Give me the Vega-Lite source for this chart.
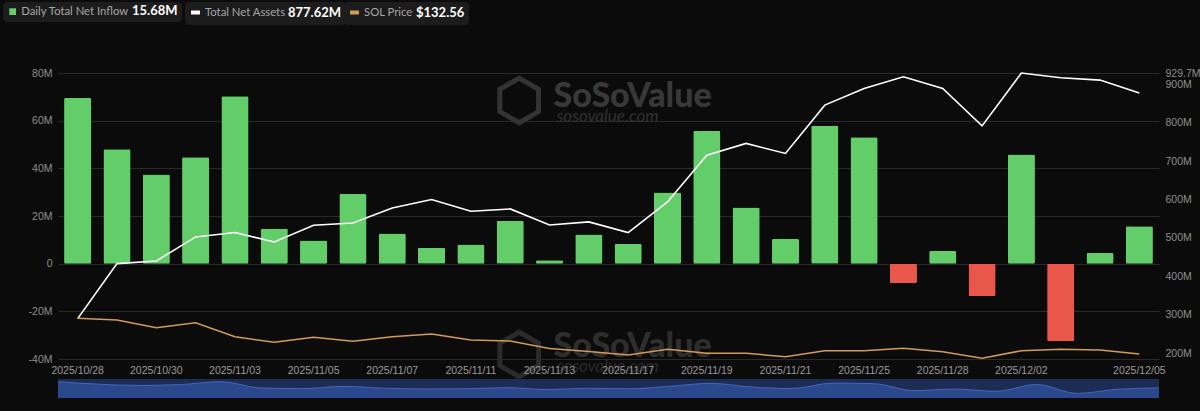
{
  "$schema": "https://vega.github.io/schema/vega-lite/v6.json",
  "width": 1101,
  "height": 286,
  "autosize": {"type": "none"},
  "padding": {"left": 58, "top": 73, "right": 41, "bottom": 52},
  "background": "#0b0b0b",
  "config": {
    "view": {"stroke": null},
    "font": "Lato",
    "axis": {"labelFont": "Liberation Sans", "labelFontSize": 10.5, "labelColor": "#8e8e8e", "domain": false, "ticks": false, "title": null}
  },
  "data": {
    "values": [
      {"date": "2025/10/28", "inflow": 69.5, "assets": 289.8, "price": 195.0},
      {"date": "2025/10/29", "inflow": 48.0, "assets": 433.2, "price": 192.0},
      {"date": "2025/10/30", "inflow": 37.4, "assets": 440.0, "price": 178.6},
      {"date": "2025/10/31", "inflow": 44.6, "assets": 502.6, "price": 187.3},
      {"date": "2025/11/03", "inflow": 70.2, "assets": 514.1, "price": 162.8},
      {"date": "2025/11/04", "inflow": 14.7, "assets": 489.6, "price": 153.0},
      {"date": "2025/11/05", "inflow": 9.7, "assets": 533.1, "price": 161.8},
      {"date": "2025/11/06", "inflow": 29.2, "assets": 539.1, "price": 154.8},
      {"date": "2025/11/07", "inflow": 12.7, "assets": 578.2, "price": 162.8},
      {"date": "2025/11/10", "inflow": 6.7, "assets": 600.1, "price": 167.5},
      {"date": "2025/11/11", "inflow": 8.0, "assets": 569.6, "price": 157.0},
      {"date": "2025/11/12", "inflow": 18.0, "assets": 575.6, "price": 155.3},
      {"date": "2025/11/13", "inflow": 1.4, "assets": 533.9, "price": 142.3},
      {"date": "2025/11/14", "inflow": 12.2, "assets": 541.7, "price": 136.9},
      {"date": "2025/11/17", "inflow": 8.2, "assets": 514.1, "price": 130.8},
      {"date": "2025/11/18", "inflow": 29.9, "assets": 593.9, "price": 140.8},
      {"date": "2025/11/19", "inflow": 55.7, "assets": 715.6, "price": 133.8},
      {"date": "2025/11/20", "inflow": 23.6, "assets": 746.2, "price": 133.8},
      {"date": "2025/11/21", "inflow": 10.3, "assets": 720.1, "price": 127.8},
      {"date": "2025/11/24", "inflow": 57.9, "assets": 846.0, "price": 138.3},
      {"date": "2025/11/25", "inflow": 53.0, "assets": 889.6, "price": 138.3},
      {"date": "2025/11/26", "inflow": -8.1, "assets": 919.8, "price": 142.5},
      {"date": "2025/11/28", "inflow": 5.3, "assets": 889.6, "price": 136.6},
      {"date": "2025/12/01", "inflow": -13.6, "assets": 792.0, "price": 125.0},
      {"date": "2025/12/02", "inflow": 45.8, "assets": 929.7, "price": 138.3},
      {"date": "2025/12/03", "inflow": -32.5, "assets": 917.2, "price": 140.8},
      {"date": "2025/12/04", "inflow": 4.5, "assets": 911.2, "price": 139.6},
      {"date": "2025/12/05", "inflow": 15.68, "assets": 877.62, "price": 132.56}
    ]
  },
  "layer": [
    {
      "layer": [
        {
          "layer": [
            {
              "mark": {"type": "bar", "cornerRadius": 1.5},
              "encoding": {
                "x": {
                  "field": "date", "type": "ordinal", "sort": null,
                  "scale": {"paddingInner": 0.31, "paddingOuter": 0.155},
                  "axis": {
                    "values": ["2025/10/28", "2025/10/30", "2025/11/03", "2025/11/05", "2025/11/07", "2025/11/11", "2025/11/13", "2025/11/17", "2025/11/19", "2025/11/21", "2025/11/25", "2025/11/28", "2025/12/02", "2025/12/05"],
                    "labelAngle": 0, "labelPadding": 6, "grid": false, "labelColor": "#9a9a9a", "zindex": 2
                  }
                },
                "y": {
                  "field": "inflow", "type": "quantitative",
                  "scale": {"domain": [-40, 80], "nice": false, "zero": false},
                  "axis": {
                    "orient": "left", "values": [-40, -20, 0, 20, 40, 60, 80],
                    "labelExpr": "datum.value == 0 ? '0' : datum.value + 'M'",
                    "grid": true, "gridColor": "#2a2a2a", "gridWidth": 1, "labelPadding": 6
                  }
                },
                "color": {
                  "condition": {"test": "datum.inflow < 0", "value": "#e9564a"},
                  "datum": "Daily Total Net Inflow",
                  "scale": {"range": ["#63cd69"]},
                  "legend": {
                    "orient": "none", "legendX": -55, "legendY": -71, "direction": "horizontal",
                    "title": "15.68M", "titleOrient": "right", "titlePadding": 3,
                    "titleColor": "#ffffff", "titleFont": "Lato", "titleFontSize": 13, "titleFontWeight": "bold",
                    "labelColor": "#a5a5a5", "labelFont": "Lato", "labelFontSize": 11.3, "labelOffset": 3,
                    "symbolType": "square", "symbolSize": 45, "symbolStrokeWidth": 0,
                    "fillColor": "#1c1c1c", "cornerRadius": 4, "padding": 4
                  }
                }
              }
            },
            {
              "data": {"values": [{"wm": "SoSoValue", "site": "sosovalue.com", "top": 65.6, "topSite": 59.5, "topLogo": 68.5, "low": -39.3, "lowSite": -45.5, "lowLogo": -38.1}]},
              "layer": [
                {
                  "mark": {"type": "text", "align": "left", "baseline": "alphabetic", "dx": 4, "font": "Lato", "fontWeight": 900, "fontSize": 34, "color": "#383838"},
                  "encoding": {"x": {"datum": "2025/11/13", "type": "ordinal"}, "y": {"field": "top", "type": "quantitative"}, "text": {"field": "wm"}}
                },
                {
                  "mark": {"type": "text", "align": "left", "baseline": "alphabetic", "dx": 7, "font": "Lato", "fontStyle": "italic", "fontSize": 17, "color": "#313131"},
                  "encoding": {"x": {"datum": "2025/11/13", "type": "ordinal"}, "y": {"field": "topSite", "type": "quantitative"}, "text": {"field": "site"}}
                },
                {
                  "mark": {"type": "point", "shape": "M0,-1L0.866,-0.5L0.866,0.5L0,1L-0.866,0.5L-0.866,-0.5Z", "filled": false, "size": 2000, "strokeWidth": 5, "color": "#333333", "opacity": 1, "xOffset": 9},
                  "encoding": {"x": {"datum": "2025/11/12", "type": "ordinal"}, "y": {"field": "topLogo", "type": "quantitative"}}
                },
                {
                  "mark": {"type": "text", "align": "left", "baseline": "alphabetic", "dx": 4, "font": "Lato", "fontWeight": 900, "fontSize": 34, "color": "#2e2e2e"},
                  "encoding": {"x": {"datum": "2025/11/13", "type": "ordinal"}, "y": {"field": "low", "type": "quantitative"}, "text": {"field": "wm"}}
                },
                {
                  "mark": {"type": "text", "align": "left", "baseline": "alphabetic", "dx": 7, "font": "Lato", "fontStyle": "italic", "fontSize": 17, "color": "#2a2a2a"},
                  "encoding": {"x": {"datum": "2025/11/13", "type": "ordinal"}, "y": {"field": "lowSite", "type": "quantitative"}, "text": {"field": "site"}}
                },
                {
                  "mark": {"type": "point", "shape": "M0,-1L0.866,-0.5L0.866,0.5L0,1L-0.866,0.5L-0.866,-0.5Z", "filled": false, "size": 2000, "strokeWidth": 5, "color": "#2b2b2b", "opacity": 1, "xOffset": 9},
                  "encoding": {"x": {"datum": "2025/11/12", "type": "ordinal"}, "y": {"field": "lowLogo", "type": "quantitative"}}
                }
              ]
            }
          ]
        },
        {
          "mark": {"type": "line", "strokeWidth": 1.6},
          "encoding": {
            "x": {"field": "date", "type": "ordinal", "sort": null},
            "y": {
              "field": "assets", "type": "quantitative",
              "scale": {"domain": [184.6, 929.7], "nice": false, "zero": false},
              "axis": {
                "orient": "right", "values": [200, 300, 400, 500, 600, 700, 800, 900, 929.7],
                "labelExpr": "datum.value + 'M'", "grid": false, "labelPadding": 6, "labelOverlap": false
              }
            },
            "color": {
              "datum": "Total Net Assets",
              "scale": {"range": ["#ffffff"]},
              "legend": {
                "orient": "none", "legendX": 127, "legendY": -71, "direction": "horizontal",
                "title": "877.62M", "titleOrient": "right", "titlePadding": 3,
                "titleColor": "#ffffff", "titleFont": "Lato", "titleFontSize": 13, "titleFontWeight": "bold",
                "labelColor": "#a5a5a5", "labelFont": "Lato", "labelFontSize": 11.3, "labelOffset": 3,
                "symbolType": "stroke", "symbolSize": 80, "symbolStrokeWidth": 4,
                "fillColor": "#1c1c1c", "cornerRadius": 4, "padding": 4
              }
            }
          }
        },
        {
          "mark": {"type": "line", "strokeWidth": 1.5},
          "encoding": {
            "x": {"field": "date", "type": "ordinal", "sort": null},
            "y": {
              "field": "price", "type": "quantitative",
              "scale": {"domain": [123.8, 624.0], "nice": false, "zero": false},
              "axis": null
            },
            "color": {
              "datum": "SOL Price",
              "scale": {"range": ["#d49a58"]},
              "legend": {
                "orient": "none", "legendX": 286, "legendY": -71, "direction": "horizontal",
                "title": "$132.56", "titleOrient": "right", "titlePadding": 3,
                "titleColor": "#ffffff", "titleFont": "Lato", "titleFontSize": 13, "titleFontWeight": "bold",
                "labelColor": "#a5a5a5", "labelFont": "Lato", "labelFontSize": 11.3, "labelOffset": 3,
                "symbolType": "stroke", "symbolSize": 80, "symbolStrokeWidth": 4,
                "fillColor": "#1c1c1c", "cornerRadius": 4, "padding": 4
              }
            }
          }
        }
      ],
      "resolve": {"scale": {"y": "independent", "color": "independent"}}
    },
    {
      "layer": [
        {
          "mark": {"type": "area", "color": "#1d2c54", "opacity": 1},
          "encoding": {
            "x": {"field": "date", "type": "ordinal", "sort": null, "scale": {"type": "point", "padding": 0}, "axis": null},
            "y": {"datum": 94, "type": "quantitative", "scale": {"domain": [-73, 94], "range": [325, 306], "nice": false, "zero": false}, "axis": null},
            "y2": {"datum": -73}
          }
        },
        {
          "mark": {"type": "area", "color": "#2b488c", "opacity": 1, "interpolate": "monotone", "line": {"color": "#4467b8", "strokeWidth": 1}},
          "encoding": {
            "x": {"field": "date", "type": "ordinal", "sort": null, "scale": {"type": "point", "padding": 0}, "axis": null},
            "y": {"field": "inflow", "type": "quantitative", "scale": {"domain": [-73, 94], "range": [325, 306], "nice": false, "zero": false}, "axis": null},
            "y2": {"datum": -73}
          }
        }
      ]
    }
  ],
  "resolve": {"scale": {"x": "independent", "y": "independent", "color": "independent"}}
}
